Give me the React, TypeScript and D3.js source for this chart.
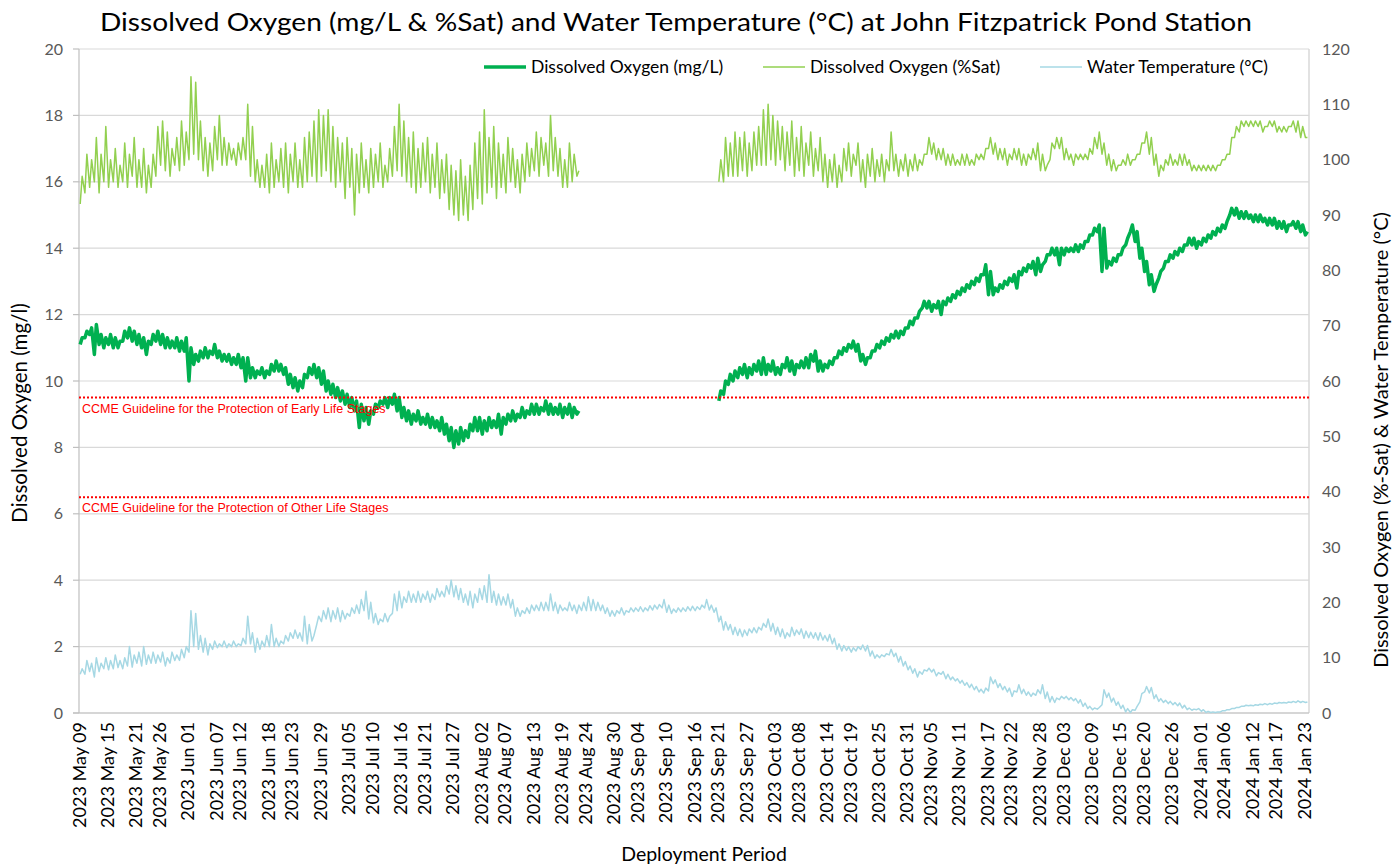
import React from "react";
import * as d3 from "d3";

// ---------- DATA ----------
const START_LABEL = "2023 May 09";
const END_LABEL = "2024 Jan 24";

const tickLabels = [
  "2023 May 09", "2023 May 15", "2023 May 21", "2023 May 26", "2023 Jun 01", "2023 Jun 07",
  "2023 Jun 12", "2023 Jun 18", "2023 Jun 23", "2023 Jun 29", "2023 Jul 05", "2023 Jul 10",
  "2023 Jul 16", "2023 Jul 21", "2023 Jul 27", "2023 Aug 02", "2023 Aug 07", "2023 Aug 13",
  "2023 Aug 19", "2023 Aug 24", "2023 Aug 30", "2023 Sep 04", "2023 Sep 10", "2023 Sep 16",
  "2023 Sep 21", "2023 Sep 27", "2023 Oct 03", "2023 Oct 08", "2023 Oct 14", "2023 Oct 19",
  "2023 Oct 25", "2023 Oct 31", "2023 Nov 05", "2023 Nov 11", "2023 Nov 17", "2023 Nov 22",
  "2023 Nov 28", "2023 Dec 03", "2023 Dec 09", "2023 Dec 15", "2023 Dec 20", "2023 Dec 26",
  "2024 Jan 01", "2024 Jan 06", "2024 Jan 12", "2024 Jan 17", "2024 Jan 23",
];

const leftTicks = [0, 2, 4, 6, 8, 10, 12, 14, 16, 18, 20];
const rightTicks = [0, 10, 20, 30, 40, 50, 60, 70, 80, 90, 100, 110, 120];

const guidelines = [
  { value: 9.5, label: "CCME Guideline for the Protection of Early Life Stages" },
  { value: 6.5, label: "CCME Guideline for the Protection of Other Life Stages" },
];

// Segment start days (days after May 09)
const seg1StartDay = 0;
const seg2StartDay = 135;

// Dissolved oxygen (mg/L): daily [high, low], segment 1 (May 09 - Aug 22)
const doMgL1: [number, number][] = [
  [11.3, 11.1], [11.5, 11.3], [11.6, 11.4], [11.7, 10.8], [11.4, 11.1], [11.3, 11.0], [11.4, 11.1], [11.3, 11.0],
  [11.2, 11.0], [11.5, 11.2], [11.6, 11.3], [11.5, 11.2], [11.4, 11.1], [11.3, 11.0], [11.2, 10.8], [11.4, 11.1],
  [11.5, 11.2], [11.4, 11.1], [11.3, 11.0], [11.2, 11.0], [11.3, 11.0], [11.2, 10.9], [11.3, 10.9], [11.0, 10.0],
  [10.8, 10.5], [10.9, 10.6], [11.0, 10.7], [10.9, 10.7], [11.1, 10.8], [10.9, 10.7], [10.8, 10.6], [10.8, 10.6],
  [10.7, 10.5], [10.8, 10.5], [10.7, 10.4], [10.7, 10.0], [10.4, 10.1], [10.3, 10.1], [10.4, 10.2], [10.3, 10.1],
  [10.5, 10.2], [10.6, 10.3], [10.5, 10.3], [10.4, 10.2], [10.2, 9.9], [10.1, 9.8], [10.0, 9.7], [10.2, 9.8],
  [10.4, 10.1], [10.5, 10.2], [10.4, 10.1], [10.3, 9.9], [10.0, 9.7], [9.9, 9.6], [9.8, 9.5], [9.7, 9.4],
  [9.6, 9.3], [9.5, 9.2], [9.4, 9.1], [9.3, 8.6], [9.2, 8.8], [9.1, 8.7], [9.3, 9.0], [9.4, 9.2],
  [9.5, 9.3], [9.5, 9.2], [9.6, 9.3], [9.5, 9.1], [9.2, 8.9], [9.1, 8.8], [9.0, 8.7], [9.1, 8.8],
  [8.9, 8.7], [9.0, 8.7], [8.9, 8.6], [8.8, 8.6], [8.9, 8.5], [8.7, 8.4], [8.6, 8.2], [8.5, 8.0],
  [8.6, 8.1], [8.5, 8.2], [8.7, 8.3], [8.9, 8.5], [8.9, 8.5], [8.8, 8.4], [8.9, 8.5], [8.8, 8.6],
  [9.0, 8.6], [8.9, 8.4], [9.0, 8.7], [9.1, 8.8], [9.0, 8.8], [9.2, 8.9], [9.1, 8.9], [9.3, 9.0],
  [9.3, 9.0], [9.2, 9.0], [9.4, 9.1], [9.3, 9.0], [9.2, 9.0], [9.3, 9.0], [9.2, 8.9], [9.3, 9.0],
  [9.2, 8.9], [9.1, 9.0],
];

// Dissolved oxygen (mg/L): daily [high, low], segment 2 (Sep 21 - Jan 23)
const doMgL2: [number, number][] = [
  [9.7, 9.4], [10.0, 9.6], [10.2, 9.9], [10.3, 10.0], [10.4, 10.1], [10.5, 10.2], [10.4, 10.1], [10.5, 10.2],
  [10.6, 10.3], [10.7, 10.2], [10.5, 10.2], [10.6, 10.3], [10.4, 10.2], [10.5, 10.2], [10.7, 10.4], [10.6, 10.3],
  [10.5, 10.2], [10.6, 10.4], [10.7, 10.4], [10.8, 10.4], [10.9, 10.6], [10.6, 10.3], [10.5, 10.3], [10.6, 10.4],
  [10.7, 10.5], [10.9, 10.7], [11.0, 10.8], [11.1, 10.9], [11.2, 11.0], [11.1, 10.9], [10.8, 10.6], [10.7, 10.5],
  [10.9, 10.7], [11.1, 10.9], [11.2, 11.0], [11.3, 11.1], [11.4, 11.2], [11.5, 11.3], [11.5, 11.3], [11.6, 11.4],
  [11.8, 11.6], [11.9, 11.7], [12.1, 11.9], [12.4, 12.2], [12.4, 12.2], [12.3, 12.1], [12.4, 12.2], [12.4, 12.0],
  [12.5, 12.3], [12.6, 12.4], [12.7, 12.5], [12.8, 12.6], [12.9, 12.7], [13.0, 12.8], [13.1, 12.9], [13.2, 13.0],
  [13.5, 13.2], [13.3, 12.6], [12.8, 12.6], [12.9, 12.7], [13.0, 12.8], [13.1, 12.9], [13.2, 13.0], [13.3, 12.8],
  [13.4, 13.2], [13.5, 13.3], [13.6, 13.4], [13.7, 13.2], [13.5, 13.3], [13.8, 13.6], [14.0, 13.8], [14.0, 13.8],
  [14.0, 13.5], [14.0, 13.8], [14.0, 13.9], [14.1, 13.9], [14.1, 13.9], [14.2, 14.0], [14.4, 14.2], [14.6, 14.4],
  [14.7, 14.5], [14.6, 13.3], [13.6, 13.4], [13.7, 13.5], [13.8, 13.6], [14.0, 13.8], [14.3, 14.1], [14.7, 14.5],
  [14.5, 14.2], [14.0, 13.7], [13.6, 13.3], [13.2, 12.9], [12.9, 12.7], [13.3, 13.1], [13.6, 13.4], [13.8, 13.6],
  [13.9, 13.7], [14.0, 13.8], [14.1, 13.9], [14.3, 14.1], [14.3, 14.1], [14.2, 14.0], [14.3, 14.1], [14.4, 14.2],
  [14.5, 14.3], [14.6, 14.4], [14.7, 14.5], [14.8, 14.6], [15.2, 15.0], [15.2, 15.0], [15.1, 14.9], [15.1, 14.9],
  [15.0, 14.9], [15.0, 14.8], [15.0, 14.8], [14.9, 14.8], [14.9, 14.7], [14.9, 14.7], [14.8, 14.6], [14.8, 14.6],
  [14.7, 14.5], [14.8, 14.7], [14.8, 14.6], [14.7, 14.5], [14.5, 14.4],
];

// Dissolved oxygen (%Sat): daily [high, low], segment 1
const doSat1: [number, number][] = [
  [97, 92], [101, 94], [100, 95], [104, 96], [101, 94], [106, 96], [100, 95], [102, 96],
  [99, 95], [103, 96], [101, 95], [104, 97], [100, 95], [102, 95], [99, 94], [101, 95],
  [106, 97], [107, 99], [105, 98], [102, 97], [104, 99], [107, 98], [105, 99], [115, 100],
  [114, 101], [107, 100], [104, 98], [103, 97], [106, 98], [108, 100], [104, 99], [103, 99],
  [102, 100], [103, 99], [104, 100], [110, 100], [106, 97], [100, 96], [99, 95], [101, 95],
  [103, 94], [100, 95], [102, 96], [103, 95], [101, 94], [103, 96], [100, 95], [104, 95],
  [105, 96], [107, 97], [109, 96], [108, 97], [109, 98], [106, 96], [104, 95], [103, 96],
  [104, 93], [102, 95], [101, 90], [103, 94], [100, 95], [102, 94], [101, 95], [103, 96],
  [99, 95], [102, 96], [106, 97], [110, 98], [107, 97], [104, 96], [105, 95], [102, 94],
  [103, 95], [104, 96], [101, 94], [103, 95], [100, 93], [101, 94], [99, 91], [98, 90],
  [100, 89], [97, 90], [99, 89], [103, 91], [105, 93], [109, 92], [104, 94], [106, 95],
  [103, 93], [101, 95], [104, 94], [102, 96], [100, 95], [101, 94], [103, 96], [102, 97],
  [105, 98], [104, 97], [103, 99], [108, 97], [104, 98], [102, 97], [100, 95], [103, 95],
  [101, 96], [98, 97],
];

// Dissolved oxygen (%Sat): daily [high, low], segment 2
const doSat2: [number, number][] = [
  [100, 96], [104, 96], [103, 97], [105, 97], [104, 97], [105, 98], [103, 97], [105, 98],
  [106, 99], [109, 99], [110, 99], [108, 100], [107, 99], [106, 100], [105, 98], [107, 99],
  [104, 97], [106, 98], [103, 97], [105, 99], [102, 97], [104, 98], [101, 96], [100, 95],
  [101, 96], [99, 95], [102, 96], [103, 98], [101, 97], [103, 99], [100, 96], [101, 95],
  [102, 97], [100, 96], [101, 97], [100, 96], [105, 98], [101, 98], [100, 97], [101, 98],
  [100, 97], [101, 98], [100, 98], [101, 99], [104, 101], [103, 101], [102, 100], [102, 100],
  [101, 99], [101, 99], [100, 99], [101, 99], [101, 99], [100, 99], [101, 99], [101, 100],
  [102, 100], [104, 102], [103, 101], [102, 100], [102, 100], [101, 99], [102, 100], [102, 100],
  [101, 99], [101, 99], [102, 100], [103, 100], [101, 98], [99, 98], [103, 100], [104, 102],
  [104, 102], [102, 100], [101, 100], [101, 99], [101, 100], [101, 100], [102, 100], [104, 101],
  [105, 102], [103, 101], [101, 99], [100, 98], [99, 98], [100, 99], [101, 99], [100, 99],
  [101, 100], [103, 101], [105, 103], [104, 101], [101, 99], [99, 97], [100, 98], [101, 99],
  [100, 99], [101, 99], [101, 99], [100, 99], [99, 98], [99, 98], [99, 98], [99, 98],
  [99, 98], [99, 98], [100, 99], [101, 100], [104, 101], [106, 104], [107, 105], [107, 106],
  [107, 106], [107, 106], [107, 106], [106, 105], [107, 106], [107, 106], [106, 105], [106, 105],
  [106, 105], [107, 106], [107, 105], [106, 104], [104, 104],
];

// Water temperature (°C): daily [high, low], May 09 - Jan 23
const waterTemp: [number, number][] = [
  [8, 7], [9.5, 7], [9, 7.5], [10, 6.5], [9, 7.5], [10, 8], [9.5, 7.8], [10.5, 8],
  [9.5, 8.2], [10, 8], [12, 8.5], [10.5, 8.3], [11, 9], [12, 8.5], [10.5, 8.8], [11, 9],
  [10.5, 9], [11, 9.2], [10, 8.5], [11, 9], [10.5, 9.5], [11.5, 9.5], [12, 10], [18.5, 11],
  [18, 12], [14, 11.5], [13.5, 11], [12.5, 10.5], [13, 11.5], [12.5, 11.8], [13, 12], [12.5, 11.8],
  [13, 12], [12.5, 12], [13.5, 12.2], [17.5, 12.5], [14.5, 12.5], [13.5, 11], [13, 11.5], [14, 12],
  [16, 12], [13.5, 12], [13, 12], [14, 12.5], [14.5, 13], [15, 13.5], [14.5, 13.5], [17.5, 13],
  [16, 12.5], [14, 13], [17.5, 16], [18.5, 16.5], [19, 17], [18.5, 16.5], [19, 17], [18.5, 16.5],
  [18, 17], [19, 17.5], [19.5, 18], [20.5, 18], [22, 18.5], [20, 17], [18, 16.3], [17, 16],
  [18, 16.5], [17.5, 16.5], [21.5, 18], [22, 18.5], [21, 19], [22, 20], [21.5, 20], [22, 20],
  [21.5, 20], [22, 20.5], [21.5, 20], [22.5, 20.5], [22, 21], [23, 21], [24, 21.5], [23, 21],
  [22.5, 20.5], [21.5, 20], [22, 19.5], [21.5, 19], [22.5, 20], [23, 20.5], [25, 20], [22, 20],
  [21.5, 19.5], [21, 19.5], [21.5, 19.5], [20.5, 19], [19, 17.5], [18.5, 17.5], [19, 18], [19.5, 18],
  [19.5, 18.5], [20, 18.5], [20, 18.5], [21.5, 18.5], [20, 18.5], [19.5, 18], [19, 18.5], [20, 18.5],
  [19.5, 18.5], [19.5, 18], [20, 18.5], [21, 18.5], [20.5, 18.5], [20, 18.5], [19.5, 18.5], [19, 18],
  [18.5, 17.5], [18.5, 17.5], [19, 18], [18.5, 17.7], [19, 18.2], [19, 18.3], [19.2, 18.4], [19, 18.3],
  [19.4, 18.5], [19.5, 18.6], [19.6, 18.8], [20.5, 19], [19.5, 18.2], [18.8, 18], [19, 18.2], [19, 18.3],
  [19.2, 18.4], [19.3, 18.5], [19.2, 18.5], [19.5, 18.7], [20.5, 19], [19.5, 18.6], [19, 18.2], [17.5, 16.5],
  [16.5, 15], [16, 15], [15.5, 14.2], [15.2, 14], [15, 13.8], [15.2, 14], [15.4, 14.5], [15.5, 14.5],
  [16.2, 15], [17, 15.5], [16.2, 14.8], [15.5, 14.2], [15.2, 13.8], [14.5, 13.5], [15.5, 13.8], [15, 14],
  [15.2, 14.2], [14.8, 13.5], [14.6, 13.6], [14.5, 13.5], [14.5, 13.2], [14, 13.2], [14.2, 13], [13.5, 12.5],
  [12.5, 11.5], [12.2, 11.2], [12, 11.3], [11.8, 11], [12, 11.2], [12.3, 11.5], [12.2, 11.2], [11.2, 10.3],
  [10.5, 9.9], [10.5, 10], [10.7, 10.2], [11.5, 10.5], [10.8, 10.2], [10.2, 9.2], [9.3, 8.5], [8.5, 7.8],
  [8, 7.2], [7.5, 6.5], [7.8, 7], [8.1, 7.6], [7.9, 7.4], [7.3, 6.7], [7.5, 7], [7, 6.2],
  [6.5, 6], [6.2, 5.8], [5.9, 5.4], [5.5, 5], [5.2, 4.6], [4.8, 4.2], [4.3, 3.8], [4.5, 3.6],
  [6.5, 4], [6, 5.3], [5.3, 4.6], [4.8, 4.2], [4.5, 3.8], [4, 3], [5.1, 3.8], [4.3, 3.5],
  [3.8, 3.2], [3.6, 3], [4.2, 3.2], [5.1, 3.5], [3.8, 2.6], [3, 2], [2.7, 1.9], [3, 2.4],
  [3, 2.6], [2.8, 2.4], [2.6, 2.2], [2.4, 1.8], [1.8, 1.2], [1.2, 0.8], [0.9, 0.6], [1, 0.7],
  [4.2, 1.5], [3.6, 2.8], [2.7, 2], [2, 1.4], [1.4, 0.8], [0.8, 0.2], [0.6, 0.1], [1.2, 0.5],
  [3.5, 2], [4.8, 3.8], [4.6, 3.6], [3.3, 2.6], [2.6, 2.1], [2.3, 1.9], [2.1, 1.7], [1.9, 1.5],
  [1.8, 1.3], [1.4, 0.9], [0.9, 0.6], [0.7, 0.5], [0.8, 0.6], [0.6, 0.3], [0.3, 0.1], [0.2, 0.1],
  [0.2, 0.1], [0.4, 0.2], [0.6, 0.4], [0.8, 0.6], [1, 0.8], [1.2, 1], [1.4, 1.2], [1.4, 1.3],
  [1.5, 1.3], [1.6, 1.4], [1.7, 1.5], [1.7, 1.5], [1.8, 1.6], [1.9, 1.7], [1.9, 1.8], [2, 1.8],
  [2.1, 1.9], [2.2, 1.9], [2.1, 1.9], [2, 1.9],
];

const COLORS = {
  doMgL: "#00B050",
  doSat: "#92D050",
  temp: "#A6D8E4",
  guide: "#FF0000",
  grid: "#D9D9D9",
  axis: "#BFBFBF",
  text: "#595959",
};

// ---------- HELPERS ----------
const parse = d3.timeParse("%Y %b %d");
const START = parse(START_LABEL) as Date;
const END = parse(END_LABEL) as Date;

type Pt = { t: Date; v: number };
function toPoints(pairs: [number, number][], startDay: number): Pt[] {
  const out: Pt[] = [];
  pairs.forEach(([hi, lo], i) => {
    const day = d3.timeDay.offset(START, startDay + i);
    out.push({ t: d3.timeHour.offset(day, 6), v: lo });
    out.push({ t: d3.timeHour.offset(day, 16), v: hi });
  });
  return out;
}

const W = 1400;
const H = 864;
const M = { left: 79, right: 1309, top: 49, bottom: 713 };

export default function App() {
  const x = d3.scaleTime().domain([START, END]).range([M.left, M.right]);
  const yL = d3.scaleLinear().domain([0, 20]).range([M.bottom, M.top]);
  const yR = d3.scaleLinear().domain([0, 120]).range([M.bottom, M.top]);

  const lineL = d3.line<Pt>().x((d) => x(d.t)).y((d) => yL(d.v));
  const lineR = d3.line<Pt>().x((d) => x(d.t)).y((d) => yR(d.v));

  const font = "Lato, 'Open Sans', sans-serif";

  const legendItems = [
    { label: "Dissolved Oxygen (mg/L)", color: COLORS.doMgL, width: 3.5, x: 484 },
    { label: "Dissolved Oxygen (%Sat)", color: COLORS.doSat, width: 1.5, x: 763 },
    { label: "Water Temperature (°C)", color: COLORS.temp, width: 1.5, x: 1040 },
  ];

  return (
    <svg
      width={W}
      height={H}
      style={{ position: "absolute", left: 0, top: 0, background: "#fff" }}
      fontFamily={font}
    >
      <rect x={0} y={0} width={W} height={H} fill="#fff" />
      {/* Title */}
      <text
        x={676}
        y={31}
        textAnchor="middle"
        fontSize={25}
        fill="#000"
        textLength={1152}
        lengthAdjust="spacingAndGlyphs"
      >
        Dissolved Oxygen (mg/L &amp; %Sat) and Water Temperature (°C) at John Fitzpatrick Pond Station
      </text>

      {/* Gridlines */}
      {leftTicks.map((t) => (
        <line key={"g" + t} x1={M.left} x2={M.right} y1={yL(t)} y2={yL(t)} stroke={COLORS.grid} strokeWidth={1.2} />
      ))}
      <line x1={M.right} x2={M.right} y1={M.top} y2={M.bottom} stroke={COLORS.grid} strokeWidth={1.5} />
      {/* Left axis */}
      <line x1={M.left} x2={M.left} y1={M.top} y2={M.bottom} stroke={COLORS.axis} strokeWidth={1.2} />
      <line x1={M.left - 6} x2={M.right} y1={M.bottom} y2={M.bottom} stroke={COLORS.axis} strokeWidth={1.2} />
      {leftTicks.map((t) => (
        <g key={"l" + t}>
          <line x1={M.left - 6} x2={M.left} y1={yL(t)} y2={yL(t)} stroke={COLORS.axis} strokeWidth={1.2} />
          <text x={M.left - 16} y={yL(t) + 5.5} textAnchor="end" fontSize={16} fill={COLORS.text}>
            {t}
          </text>
        </g>
      ))}
      {rightTicks.map((t) => (
        <text key={"r" + t} x={M.right + 13} y={yR(t) + 5.5} textAnchor="start" fontSize={16} fill={COLORS.text}>
          {t}
        </text>
      ))}

      {/* X tick labels */}
      {tickLabels.map((lab) => {
        const px = x(parse(lab) as Date);
        return (
          <text
            key={lab}
            transform={`translate(${px + 6.5},${M.bottom + 9}) rotate(-90)`}
            textAnchor="end"
            fontSize={18}
            fill="#000"
          >
            {lab}
          </text>
        );
      })}

      {/* Axis titles */}
      <text x={704} y={861} textAnchor="middle" fontSize={19.5} fill="#000">
        Deployment Period
      </text>
      <text transform={`translate(27,413) rotate(-90)`} textAnchor="middle" fontSize={20.5} fill="#000">
        Dissolved Oxygen (mg/l)
      </text>
      <text transform={`translate(1388,440) rotate(-90)`} textAnchor="middle" fontSize={20} fill="#000">
        Dissolved Oxygen (%-Sat) &amp; Water Temperature (°C)
      </text>

      {/* Series */}
      <path d={lineL(toPoints(doMgL1, seg1StartDay)) || ""} fill="none" stroke={COLORS.doMgL} strokeWidth={3.5} strokeLinejoin="round" />
      <path d={lineL(toPoints(doMgL2, seg2StartDay)) || ""} fill="none" stroke={COLORS.doMgL} strokeWidth={3.5} strokeLinejoin="round" />
      <path d={lineR(toPoints(doSat1, seg1StartDay)) || ""} fill="none" stroke={COLORS.doSat} strokeWidth={1.5} strokeLinejoin="round" />
      <path d={lineR(toPoints(doSat2, seg2StartDay)) || ""} fill="none" stroke={COLORS.doSat} strokeWidth={1.5} strokeLinejoin="round" />
      <path d={lineR(toPoints(waterTemp, seg1StartDay)) || ""} fill="none" stroke={COLORS.temp} strokeWidth={1.5} strokeLinejoin="round" />

      {/* Guidelines */}
      {guidelines.map((g) => (
        <g key={g.label}>
          <line x1={M.left} x2={M.right} y1={yL(g.value)} y2={yL(g.value)} stroke={COLORS.guide} strokeWidth={2} strokeDasharray="2,2" />
          <text x={M.left + 3} y={yL(g.value) + 15} fontSize={12.5} fill={COLORS.guide} fontFamily="'Liberation Sans', Arial, sans-serif">
            {g.label}
          </text>
        </g>
      ))}

      {/* Legend */}
      {legendItems.map((it) => (
        <g key={it.label}>
          <line x1={it.x} x2={it.x + 42} y1={67} y2={67} stroke={it.color} strokeWidth={it.width} />
          <text x={it.x + 47} y={73} fontSize={17.5} fill="#000">
            {it.label}
          </text>
        </g>
      ))}
    </svg>
  );
}
